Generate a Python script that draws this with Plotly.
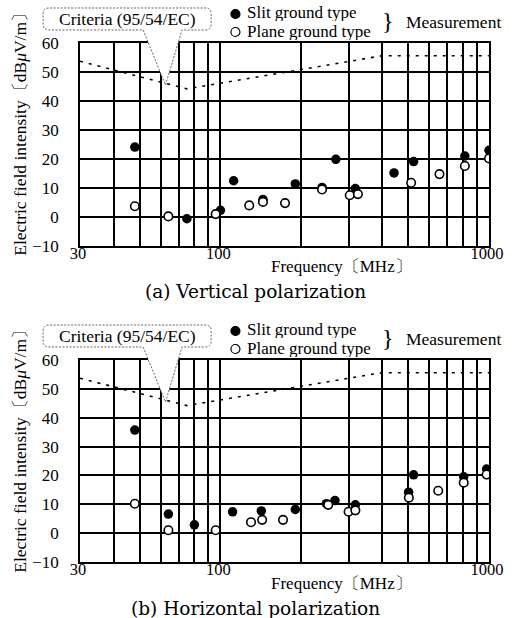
import plotly.graph_objects as go

# ---------------- data ----------------
freq_v_slit = [48, 75, 100, 112, 144, 190, 239, 269, 318, 443, 524, 813, 1000]
val_v_slit = [24.1, -0.6, 2.3, 12.5, 6.0, 11.4, 10.2, 19.9, 9.8, 15.2, 19.1, 21.0, 23.0]
freq_v_plane = [48, 64, 96, 128, 144, 174, 239, 303, 325, 513, 654, 813, 1000]
val_v_plane = [3.7, 0.2, 1.0, 4.0, 5.2, 4.8, 9.5, 7.5, 7.9, 11.8, 14.8, 17.6, 20.2]

freq_h_slit = [48, 64, 80, 111, 142, 190, 248, 267, 318, 502, 524, 805, 980]
val_h_slit = [35.7, 6.6, 2.9, 7.4, 7.7, 8.2, 10.2, 11.3, 9.8, 14.2, 20.2, 19.5, 22.2]
freq_h_plane = [48, 64, 96, 130, 143, 171, 252, 300, 318, 503, 647, 805, 980]
val_h_plane = [10.2, 1.0, 1.0, 3.8, 4.6, 4.6, 9.8, 7.4, 7.9, 12.3, 14.7, 17.5, 20.3]

crit_freq = [30, 75, 400, 1000]
crit_val = [53.7, 44.2, 55.6, 55.6]

x_tickvals = [30, 40, 50, 60, 70, 80, 90, 100, 200, 300, 400, 500, 600, 700, 800, 900, 1000]
x_ticktext = ["30", "", "", "", "", "", "", "100", "", "", "", "", "", "", "", "", "1000"]
y_tickvals = [-10, 0, 10, 20, 30, 40, 50, 60]

# ---------------- layout helpers ----------------
W, H = 516, 618
L, R, T, B = 80, 15, 43, 56
PW, PH = W - L - R, H - T - B
OFF = 317  # vertical pixel offset of lower panel


def px(x):
    return (x - L) / PW


def py(y):
    return (H - B - y) / PH


SERIF = "Liberation Serif, Times New Roman, serif"
FS = 17
fig = go.Figure()

panels = [
    ("x", "y", freq_v_slit, val_v_slit, freq_v_plane, val_v_plane),
    ("x2", "y2", freq_h_slit, val_h_slit, freq_h_plane, val_h_plane),
]
for xa, ya, fs, vs, fp, vp in panels:
    fig.add_trace(go.Scatter(x=crit_freq, y=crit_val, xaxis=xa, yaxis=ya, mode="lines",
                             line=dict(color="black", width=1.6, dash="3px,6px"),
                             showlegend=False, hoverinfo="skip"))
    fig.add_trace(go.Scatter(x=fs, y=vs, xaxis=xa, yaxis=ya, mode="markers",
                             marker=dict(color="black", size=9.5, line=dict(width=0)),
                             showlegend=False))
    fig.add_trace(go.Scatter(x=fp, y=vp, xaxis=xa, yaxis=ya, mode="markers",
                             marker=dict(color="white", size=8.5,
                                         line=dict(color="black", width=1.6)),
                             showlegend=False))

xcommon = dict(type="log", range=[1.4771, 3.0], tickmode="array",
               tickvals=x_tickvals, ticktext=x_ticktext,
               showgrid=True, gridcolor="black", gridwidth=1.8,
               showline=True, linecolor="black", linewidth=1.8, mirror=True,
               ticks="", tickfont=dict(family=SERIF, size=16.5, color="black"),
               ticklabelshift=-2, ticklabelstandoff=-9, ticklabeloverflow="allow",
               zeroline=False, fixedrange=True)
ycommon = dict(range=[-10, 60], tickmode="array", tickvals=y_tickvals,
               showgrid=True, gridcolor="black", gridwidth=1.8,
               showline=True, linecolor="black", linewidth=1.8, mirror=True,
               ticks="outside", ticklen=16, tickcolor="rgba(0,0,0,0)",
               tickfont=dict(family=SERIF, size=17, color="black"),
               zeroline=False, fixedrange=True)

top_lo = py(246)
bot_hi = py(43 + OFF)

fig.update_layout(
    width=W, height=H,
    margin=dict(l=L, r=R, t=T, b=B, pad=0),
    paper_bgcolor="white", plot_bgcolor="white",
    xaxis=dict(domain=[0, 1], anchor="y", **xcommon),
    yaxis=dict(domain=[top_lo, 1], anchor="x", **ycommon),
    xaxis2=dict(domain=[0, 1], anchor="y2", **xcommon),
    yaxis2=dict(domain=[0, bot_hi], anchor="x2", **ycommon),
    showlegend=False,
)

shapes = []
annots = []
for k, off in enumerate([0, OFF]):
    # callout box (rounded, dashed, white-filled) with pointer
    x0, x1, y0, y1, r = 42, 215, 8 + off, 30 + off, 6
    tipx, tipy = 168, 85 + off
    g0, g1 = 145, 185

    def P(a, b):
        return f"{px(a):.5f},{py(b):.5f}"

    path = (f"M{P(g0, y1)} L{P(tipx, tipy)} L{P(g1, y1)} L{P(x1 - r, y1)} "
            f"Q{P(x1, y1)} {P(x1, y1 - r)} L{P(x1, y0 + r)} Q{P(x1, y0)} {P(x1 - r, y0)} "
            f"L{P(x0 + r, y0)} Q{P(x0, y0)} {P(x0, y0 + r)} L{P(x0, y1 - r)} "
            f"Q{P(x0, y1)} {P(x0 + r, y1)} Z")
    shapes.append(dict(type="path", xref="paper", yref="paper", path=path,
                       line=dict(color="#666666", width=1, dash="2px,1.5px"),
                       fillcolor="white", layer="above"))
    annots.append(dict(text="Criteria (95/54/EC)", x=px(129), y=py(19 + off),
                       xanchor="center", yanchor="middle",
                       font=dict(family=SERIF, size=17.5, color="black")))
    # legend
    for cy, fill in [(14 + off, "black"), (32 + off, "white")]:
        shapes.append(dict(type="circle", xref="paper", yref="paper",
                           xsizemode="pixel", ysizemode="pixel",
                           xanchor=px(240), yanchor=py(cy),
                           x0=-4.5, x1=4.5, y0=-4.5, y1=4.5,
                           fillcolor=fill, line=dict(color="black", width=1.2)))
    annots.append(dict(text="Slit ground type", x=px(250), y=py(13 + off),
                       xanchor="left", yanchor="middle", height=17))
    annots.append(dict(text="Plane ground type", x=px(250), y=py(31 + off),
                       xanchor="left", yanchor="middle", height=17))
    annots.append(dict(text="}", x=px(397), y=py(21 + off), xanchor="center",
                       yanchor="middle",
                       font=dict(family=SERIF, size=24, color="black", weight=300)))
    annots.append(dict(text="Measurement", x=px(413), y=py(22 + off),
                       xanchor="left", yanchor="middle",
                       font=dict(family=SERIF, size=17.5, color="black")))
    # axis titles
    annots.append(dict(text="Electric field intensity〔dB<i>μ</i>V/m〕",
                       x=px(18), y=py(130 + off), textangle=-90,
                       xanchor="center", yanchor="middle",
                       font=dict(family=SERIF, size=17.5, color="black")))
    annots.append(dict(text="Frequency〔MHz〕", x=px(349), y=py(266 + off),
                       xanchor="center", yanchor="middle"))
    cap = "(a) Vertical polarization" if k == 0 else "(b) Horizontal polarization"
    annots.append(dict(text=cap, x=px(261), y=py(291 + off), xanchor="center",
                       yanchor="middle",
                       font=dict(family="DejaVu Serif, serif", size=18.5, color="black")))

for a in annots:
    a.setdefault("font", dict(family=SERIF, size=FS, color="black"))
    a.update(xref="paper", yref="paper", showarrow=False)

fig.update_layout(shapes=shapes, annotations=annots)
fig.write_html("out.html", config={"displayModeBar": False},
               post_script="document.body.style.margin='0';document.body.style.padding='0';")
